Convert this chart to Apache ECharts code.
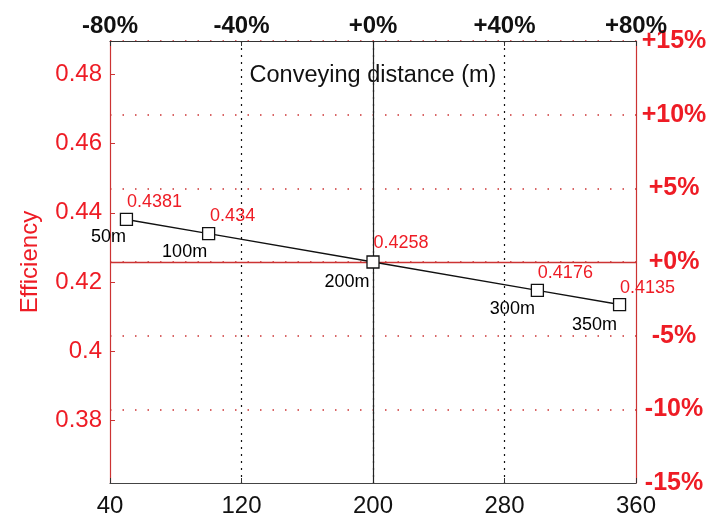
<!DOCTYPE html>
<html>
<head>
<meta charset="utf-8">
<script src="https://cdn.jsdelivr.net/npm/echarts@6/dist/echarts.min.js"></script>
<style>
html,body{margin:0;padding:0;background:#fff;}
#chart{width:724px;height:518px;}
</style>
</head>
<body>
<div id="chart"></div>
<script>
// ---- data ----
const distances = [50, 100, 200, 300, 350];
const efficiency = [0.4381, 0.434, 0.4258, 0.4176, 0.4135];
const bottomTicks = [40, 120, 200, 280, 360];
const topTicks = [-80, -40, 0, 40, 80];
const leftTicks = [0.38, 0.40, 0.42, 0.44, 0.46, 0.48];
const rightTicks = [-15, -10, -5, 0, 5, 10, 15];
const baseIndex = 2; // 200 m reference point

// ---- layout / style ----
const valueLabelOffset = [[28, -17], [24, -18], [28, -19], [28, -17], [28, -17]];
const distLabelOffset = [[-18, 18], [-24, 18], [-26, 20], [-25, 19], [-25, 20]];
const RED = '#ee1c25';
const RED_LINE = '#cc3333';
const FONT = 'Liberation Sans, Arial, sans-serif';

const base = efficiency[baseIndex];
const leftMin = base * (1 + rightTicks[0] / 100);
const leftMax = base * (1 + rightTicks[rightTicks.length - 1] / 100);

const pts = distances.map((d, i) => [d, efficiency[i]]);

const chart = echarts.init(document.getElementById('chart'), null, {renderer: 'canvas'});
const fmtSigned = v => (v >= 0 ? '+' : '') + v + '%';

chart.setOption({
  animation: false,
  textStyle: {fontFamily: FONT},
  grid: {left: 110, right: 88, top: 41, bottom: 34},
  graphic: [{
    type: 'text', x: 373, y: 76,
    style: {text: 'Conveying distance (m)', font: '23.5px ' + FONT, fill: '#111',
      textAlign: 'center', textVerticalAlign: 'middle'}
  }],
  xAxis: [{
    type: 'value', position: 'bottom',
    min: bottomTicks[0], max: bottomTicks[bottomTicks.length - 1],
    interval: bottomTicks[1] - bottomTicks[0],
    axisLine: {onZero: false, lineStyle: {color: '#444', width: 1.2}},
    axisTick: {inside: true, length: 5, lineStyle: {color: '#333'}},
    axisLabel: {fontSize: 24, color: '#111', margin: 11, fontFamily: FONT},
    splitLine: {show: true, showMinLine: false, showMaxLine: false,
      lineStyle: {color: '#111', type: [2, 5], width: 1.2}}
  }, {
    type: 'value', position: 'top',
    min: topTicks[0], max: topTicks[topTicks.length - 1],
    interval: topTicks[1] - topTicks[0],
    axisLine: {onZero: false, lineStyle: {color: '#333', width: 1.2}},
    axisTick: {inside: true, length: 5, lineStyle: {color: '#333'}},
    axisLabel: {fontSize: 24, fontWeight: 'bold', color: '#111', margin: 3,
      fontFamily: FONT, formatter: fmtSigned},
    splitLine: {show: false}
  }],
  yAxis: [{
    type: 'value', position: 'left', min: leftMin, max: leftMax,
    name: 'Efficiency', nameLocation: 'middle', nameGap: 68,
    nameTextStyle: {color: RED, fontSize: 24, fontFamily: FONT},
    axisLine: {show: true, onZero: false, lineStyle: {color: RED_LINE, width: 1.2}},
    axisTick: {inside: true, length: 5, customValues: leftTicks, lineStyle: {color: RED_LINE}},
    axisLabel: {fontSize: 24, color: RED, margin: 8, customValues: leftTicks, fontFamily: FONT},
    splitLine: {show: false}
  }, {
    type: 'value', position: 'right',
    min: rightTicks[0], max: rightTicks[rightTicks.length - 1],
    interval: rightTicks[1] - rightTicks[0],
    axisLine: {show: true, onZero: false, lineStyle: {color: RED_LINE, width: 1.2}},
    axisTick: {show: false},
    axisLabel: {fontSize: 25, fontWeight: 'bold', color: RED, margin: 38, align: 'center',
      fontFamily: FONT, formatter: fmtSigned},
    splitLine: {show: true, showMinLine: false,
      lineStyle: {color: RED_LINE, type: [1.5, 11], width: 1.5}}
  }],
  series: [{
    type: 'line', xAxisIndex: 0, yAxisIndex: 0,
    data: pts.map((p, i) => ({value: p, label: {offset: valueLabelOffset[i]}})),
    symbol: 'rect', symbolSize: 12,
    itemStyle: {color: '#fff', borderColor: '#111', borderWidth: 1.3},
    lineStyle: {color: '#111', width: 1.4},
    label: {show: true, position: 'inside', color: RED, fontSize: 18, fontFamily: FONT,
      textBorderWidth: 0, opacity: 1, formatter: p => String(p.value[1])},
    z: 5,
    markLine: {
      silent: true, symbol: 'none', label: {show: false}, precision: 6,
      data: [
        {xAxis: bottomTicks[2], lineStyle: {color: '#222', type: 'solid', width: 1.2}},
        {yAxis: base, lineStyle: {color: RED_LINE, type: 'solid', width: 1.4}}
      ]
    }
  }, {
    type: 'scatter', xAxisIndex: 0, yAxisIndex: 0,
    data: pts.map((p, i) => ({value: p, label: {offset: distLabelOffset[i]}})),
    symbolSize: 1,
    itemStyle: {color: 'rgba(255,255,255,0)'},
    label: {show: true, position: 'inside', color: '#000', fontSize: 18, fontFamily: FONT,
      textBorderWidth: 0, opacity: 1, formatter: p => p.value[0] + 'm'},
    z: 6
  }]
});
</script>
</body>
</html>
